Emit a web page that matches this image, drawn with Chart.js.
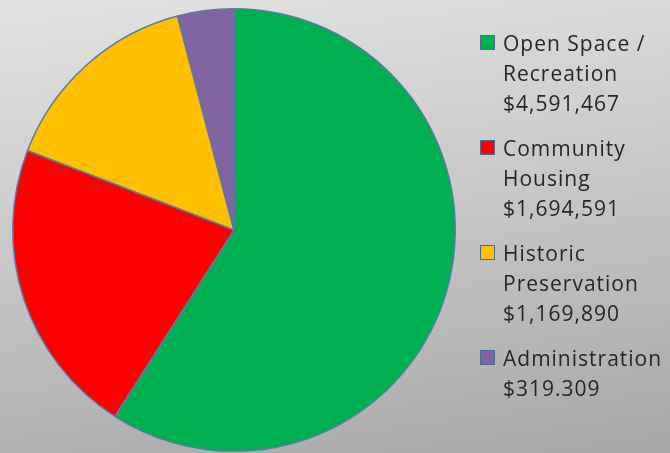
<!DOCTYPE html>
<html>
<head>
<meta charset="utf-8">
<script src="https://cdn.jsdelivr.net/npm/chart.js@4"></script>
<style>
  html, body { margin: 0; padding: 0; }
  body { width: 670px; height: 453px; overflow: hidden; }
  #wrap { position: relative; width: 670px; height: 453px;
          background: linear-gradient(172deg, #e3e3e3 0%, #c9c9c9 45%, #a7a7a7 100%); }
  #c { position: absolute; left: 0; top: 0; }
  #legend { position: absolute; left: 480px; top: 28px; font-family: "Open Sans", sans-serif;
            font-size: 21px; letter-spacing: 1px; color: #262626; }
  .item { position: relative; padding-left: 23px; margin-bottom: 15px; }
  .line { height: 30px; line-height: 30px; white-space: nowrap; }
  .sw { position: absolute; left: 0; top: 7px; width: 13px; height: 13px;
        border: 1px solid #4a6a9a; }
</style>
</head>
<body>
<div id="wrap">
  <canvas id="c" width="670" height="453"></canvas>
  <div id="legend"></div>
</div>
<script>
const categories = [["Open Space /", "Recreation"], ["Community", "Housing"], ["Historic", "Preservation"], ["Administration"]];
const values = [4591467, 1694591, 1169890, 319309];
const valueLabels = ["$4,591,467", "$1,694,591", "$1,169,890", "$319.309"];
const colors = ["#00b050", "#ff0000", "#ffc000", "#8064a2"];

const canvas = document.getElementById('c');
canvas.style.width = '670px';
canvas.style.height = '453px';

new Chart(canvas, {
  type: 'pie',
  data: {
    labels: categories.map(c => c.join(' ')),
    datasets: [{
      data: values,
      backgroundColor: colors,
      borderColor: '#5a7aa6',
      borderWidth: 1.5
    }]
  },
  options: {
    responsive: false,
    animation: false,
    devicePixelRatio: 1,
    layout: { padding: { left: 12, top: 8, right: 214, bottom: 1 } },
    plugins: { legend: { display: false }, tooltip: { enabled: false } }
  }
});

const legend = document.getElementById('legend');
categories.forEach((lines, i) => {
  const item = document.createElement('div');
  item.className = 'item';
  const sw = document.createElement('div');
  sw.className = 'sw';
  sw.style.background = colors[i];
  item.appendChild(sw);
  lines.concat([valueLabels[i]]).forEach(t => {
    const l = document.createElement('div');
    l.className = 'line';
    l.textContent = t;
    item.appendChild(l);
  });
  legend.appendChild(item);
});
</script>
</body>
</html>
